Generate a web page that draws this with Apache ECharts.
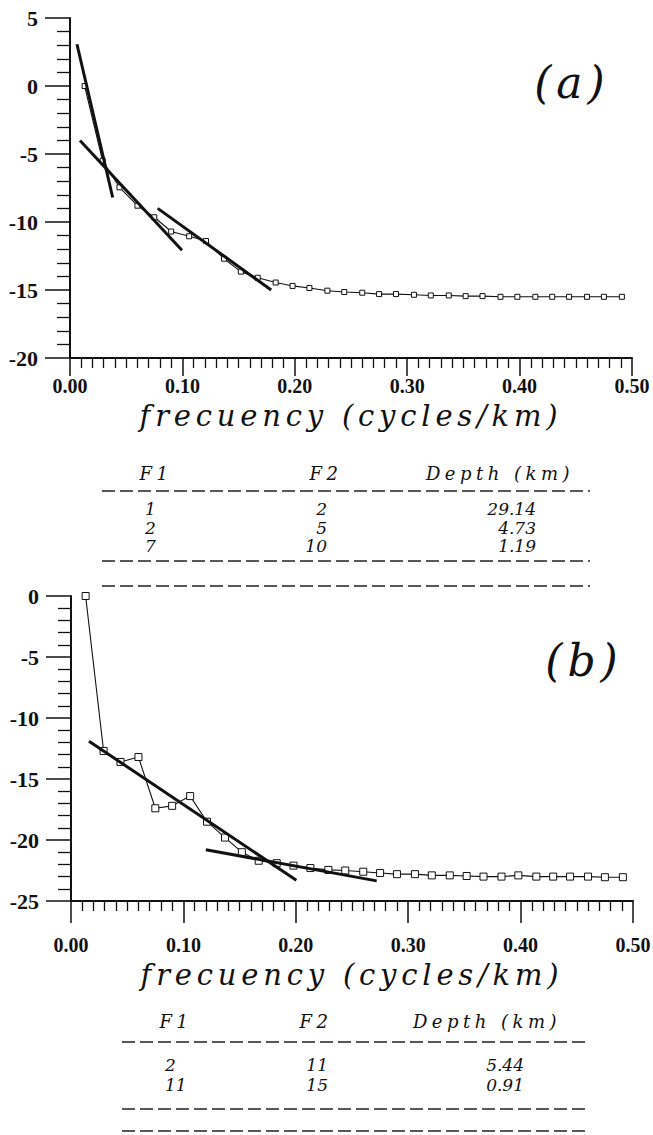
<!DOCTYPE html>
<html>
<head>
<meta charset="utf-8">
<script src="https://cdn.jsdelivr.net/npm/echarts@6/dist/echarts.min.js"></script>
<style>
  html, body { margin: 0; padding: 0; background: #fff; }
  #chart { width: 653px; height: 1135px; }
  text[style*="italic"][style*="18px"] { letter-spacing: 4.5px; }
  text[style*="italic"][style*="29px"] { letter-spacing: 4.8px; }
  text[style*="italic"][style*="44px"] { letter-spacing: 5px; }
</style>
</head>
<body>
<div id="chart"></div>
<script>
// ---- data ----
const freq = [0.013, 0.029, 0.044, 0.060, 0.075, 0.090, 0.106, 0.121, 0.137, 0.152, 0.167, 0.183, 0.198, 0.213, 0.229, 0.244, 0.260, 0.275, 0.290, 0.306, 0.321, 0.337, 0.352, 0.367, 0.383, 0.398, 0.414, 0.429, 0.444, 0.460, 0.475, 0.491];
const spectrumA = [0.0, -5.5, -7.45, -8.8, -9.65, -10.7, -11.05, -11.4, -12.7, -13.65, -14.1, -14.45, -14.7, -14.85, -15.05, -15.15, -15.2, -15.3, -15.3, -15.35, -15.4, -15.4, -15.45, -15.45, -15.5, -15.5, -15.5, -15.5, -15.5, -15.5, -15.5, -15.5];
const spectrumB = [0.0, -12.7, -13.6, -13.2, -17.4, -17.2, -16.4, -18.5, -19.8, -21.0, -21.7, -21.9, -22.1, -22.3, -22.45, -22.5, -22.6, -22.7, -22.8, -22.8, -22.9, -22.9, -22.95, -23.0, -23.0, -22.9, -23.0, -23.0, -23.0, -23.0, -23.05, -23.05];
const fitA1 = [[0.0062, 3.07], [0.038, -8.2]];
const fitA2 = [[0.0089, -4.0], [0.0996, -12.07]];
const fitA3 = [[0.078, -9.0], [0.179, -15.0]];
const fitB1 = [[0.016, -11.9], [0.2005, -23.3]];
const fitB2 = [[0.120, -20.8], [0.272, -23.35]];
const xTickLabels = ['0.00', '0.10', '0.20', '0.30', '0.40', '0.50'];
const xTitle = 'frecuency (cycles/km)';
const tableHeader = ['F1', 'F2', 'Depth (km)'];
const tableA_F1 = ['1', '2', '7'];
const tableA_F2 = ['2', '5', '10'];
const tableA_depth = ['29.14', '4.73', '1.19'];
const tableB_F1 = ['2', '11'];
const tableB_F2 = ['11', '15'];
const tableB_depth = ['5.44', '0.91'];
const panelLabels = ['(a)', '(b)'];

// ---- helpers ----
const ink = '#111';
const pairs = (xs, ys) => xs.map((x, i) => [x, ys[i]]);

function xAxisCfg(gridIndex, labelMargin, nameGap, tickLen) {
  return {
    type: 'value', gridIndex, min: 0, max: 0.5, interval: 0.1,
    axisLine: { onZero: false, lineStyle: { color: ink, width: 2 } },
    axisTick: { show: true, length: tickLen, lineStyle: { color: ink, width: 1.5 } },
    minorTick: { show: true, splitNumber: 10, length: 10, lineStyle: { color: ink, width: 1.3 } },
    splitLine: { show: false },
    axisLabel: { margin: labelMargin, formatter: v => xTickLabels[Math.round(v * 10)],
      fontFamily: 'Liberation Serif', fontWeight: 'bold', fontSize: 20, color: ink },
    name: xTitle, nameLocation: 'middle', nameGap,
    nameTextStyle: { fontFamily: 'DejaVu Serif', fontStyle: 'italic', fontSize: 29, color: ink }
  };
}
function yAxisCfg(gridIndex, min, max) {
  return {
    type: 'value', gridIndex, min, max, interval: 5,
    axisLine: { onZero: false, lineStyle: { color: ink, width: 2 } },
    axisTick: { show: true, length: 25, lineStyle: { color: ink, width: 1.5 } },
    minorTick: { show: true, splitNumber: 5, length: 13, lineStyle: { color: ink, width: 1.3 } },
    splitLine: { show: false },
    axisLabel: { margin: 32, fontFamily: 'Liberation Serif', fontWeight: 'bold', fontSize: 22, color: ink }
  };
}
function dataSeries(idx, values, size) {
  return {
    type: 'line', xAxisIndex: idx, yAxisIndex: idx, data: pairs(freq, values),
    symbol: 'rect', symbolSize: size, showSymbol: true,
    lineStyle: { color: ink, width: 1.1 },
    itemStyle: { color: '#fff', borderColor: ink, borderWidth: 1 },
    silent: true, z: 3
  };
}
function fitSeries(idx, pts) {
  return {
    type: 'line', xAxisIndex: idx, yAxisIndex: idx, data: pts,
    symbol: 'none', lineStyle: { color: ink, width: 3 }, silent: true, z: 4
  };
}

// ---- table graphics ----
const italicFont = size => 'italic ' + size + 'px "DejaVu Serif"';
function txt(text, x, y, size, align) {
  return { type: 'text', silent: true, style: {
    text, x, y, font: italicFont(size), fill: ink,
    textAlign: align, align: align, textVerticalAlign: 'middle', verticalAlign: 'middle' } };
}
function dash(y, x1, x2) {
  return { type: 'line', silent: true, shape: { x1, y1: y, x2, y2: y },
    style: { stroke: '#222', lineWidth: 1.5, lineDash: [13, 5] } };
}
function table(cfg, f1, f2, depth) {
  const els = [];
  els.push(txt(tableHeader[0], cfg.hx[0], cfg.hy, 18, 'center'));
  els.push(txt(tableHeader[1], cfg.hx[1], cfg.hy, 18, 'center'));
  els.push(txt(tableHeader[2], cfg.hx[2], cfg.hy, 18, 'center'));
  cfg.dashY.forEach(y => els.push(dash(y, cfg.dx[0], cfg.dx[1])));
  f1.forEach((v, i) => {
    const y = cfg.rowY[i];
    els.push(txt(v, cfg.colX[0], y, 17, 'left'));
    els.push(txt(f2[i], cfg.colX[1], y, 17, 'right'));
    els.push(txt(depth[i], cfg.colX[2], y, 17, 'right'));
  });
  return els;
}

const graphics = []
  .concat(table({ hx: [156, 326, 500], hy: 473, dashY: [491, 561, 586], dx: [102, 590],
                  rowY: [509, 528, 546], colX: [145, 327, 536] }, tableA_F1, tableA_F2, tableA_depth))
  .concat(table({ hx: [176, 316, 487], hy: 1021, dashY: [1042, 1109, 1131], dx: [122, 590],
                  rowY: [1065, 1085], colX: [165, 328, 524] }, tableB_F1, tableB_F2, tableB_depth))
  .concat([txt(panelLabels[0], 572, 82, 44, 'center'), txt(panelLabels[1], 584, 660, 44, 'center')]);

const chart = echarts.init(document.getElementById('chart'), null, { renderer: 'svg', width: 653, height: 1135 });
chart.setOption({
  animation: false,
  backgroundColor: '#fff',
  grid: [
    { left: 70, top: 18, width: 562, height: 340, containLabel: false, outerBoundsMode: 'none' },
    { left: 71, top: 596, width: 562, height: 305, containLabel: false, outerBoundsMode: 'none' }
  ],
  xAxis: [xAxisCfg(0, 18, 43, 18), xAxisCfg(1, 34, 59, 22)],
  yAxis: [yAxisCfg(0, -20, 5), yAxisCfg(1, -25, 0)],
  series: [
    dataSeries(0, spectrumA, 5),
    fitSeries(0, fitA1), fitSeries(0, fitA2), fitSeries(0, fitA3),
    dataSeries(1, spectrumB, 7),
    fitSeries(1, fitB1), fitSeries(1, fitB2)
  ],
  graphic: graphics
});
</script>
</body>
</html>
